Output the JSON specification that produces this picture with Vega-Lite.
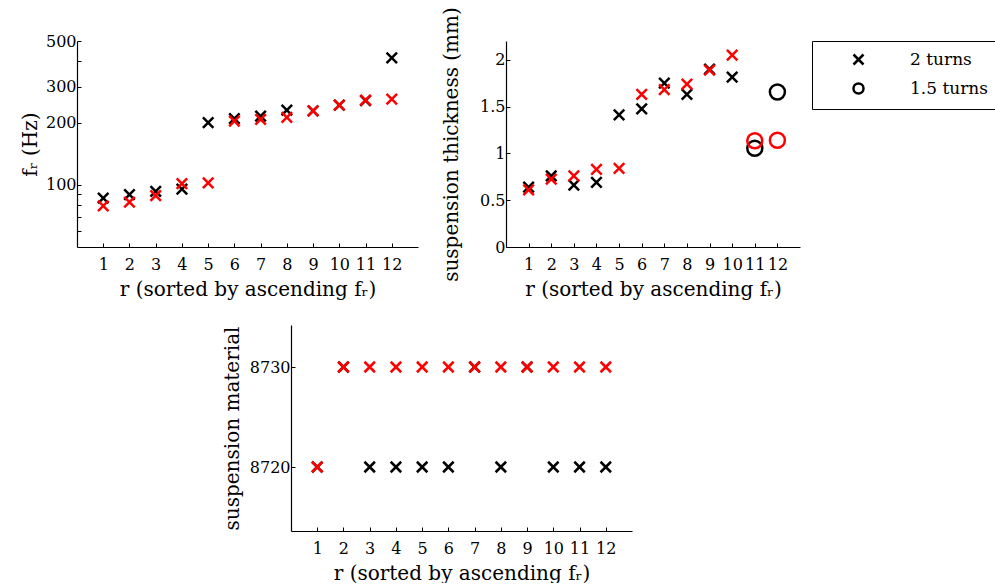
{
  "$schema": "https://vega.github.io/schema/vega-lite/v6.json",
  "padding": {"left": 20, "top": 6, "right": 0, "bottom": 0},
  "background": "white",
  "datasets": {
    "fr": [
      {"r": 1, "v": 86.4, "set": "a", "turns": "2 turns"},
      {"r": 2, "v": 89.7, "set": "a", "turns": "2 turns"},
      {"r": 3, "v": 93, "set": "a", "turns": "2 turns"},
      {"r": 4, "v": 95.5, "set": "a", "turns": "2 turns"},
      {"r": 5, "v": 201, "set": "a", "turns": "2 turns"},
      {"r": 6, "v": 210, "set": "a", "turns": "2 turns"},
      {"r": 7, "v": 216, "set": "a", "turns": "2 turns"},
      {"r": 8, "v": 231, "set": "a", "turns": "2 turns"},
      {"r": 9, "v": 229, "set": "a", "turns": "2 turns"},
      {"r": 10, "v": 244, "set": "a", "turns": "2 turns"},
      {"r": 11, "v": 257, "set": "a", "turns": "2 turns"},
      {"r": 12, "v": 414, "set": "a", "turns": "2 turns"},
      {"r": 1, "v": 79.2, "set": "b", "turns": "2 turns"},
      {"r": 2, "v": 82.6, "set": "b", "turns": "2 turns"},
      {"r": 3, "v": 88.7, "set": "b", "turns": "2 turns"},
      {"r": 4, "v": 101.5, "set": "b", "turns": "2 turns"},
      {"r": 5, "v": 102.3, "set": "b", "turns": "2 turns"},
      {"r": 6, "v": 204, "set": "b", "turns": "2 turns"},
      {"r": 7, "v": 208, "set": "b", "turns": "2 turns"},
      {"r": 8, "v": 213, "set": "b", "turns": "2 turns"},
      {"r": 9, "v": 229, "set": "b", "turns": "2 turns"},
      {"r": 10, "v": 244, "set": "b", "turns": "2 turns"},
      {"r": 11, "v": 258, "set": "b", "turns": "2 turns"},
      {"r": 12, "v": 261, "set": "b", "turns": "2 turns"}
    ],
    "thick": [
      {"r": 1, "v": 0.64, "set": "a", "turns": "2 turns"},
      {"r": 2, "v": 0.76, "set": "a", "turns": "2 turns"},
      {"r": 3, "v": 0.66, "set": "a", "turns": "2 turns"},
      {"r": 4, "v": 0.69, "set": "a", "turns": "2 turns"},
      {"r": 5, "v": 1.41, "set": "a", "turns": "2 turns"},
      {"r": 6, "v": 1.476, "set": "a", "turns": "2 turns"},
      {"r": 7, "v": 1.75, "set": "a", "turns": "2 turns"},
      {"r": 8, "v": 1.63, "set": "a", "turns": "2 turns"},
      {"r": 9, "v": 1.9, "set": "a", "turns": "2 turns"},
      {"r": 10, "v": 1.815, "set": "a", "turns": "2 turns"},
      {"r": 11, "v": 1.055, "set": "a", "turns": "1.5 turns"},
      {"r": 12, "v": 1.655, "set": "a", "turns": "1.5 turns"},
      {"r": 1, "v": 0.61, "set": "b", "turns": "2 turns"},
      {"r": 2, "v": 0.725, "set": "b", "turns": "2 turns"},
      {"r": 3, "v": 0.76, "set": "b", "turns": "2 turns"},
      {"r": 4, "v": 0.83, "set": "b", "turns": "2 turns"},
      {"r": 5, "v": 0.84, "set": "b", "turns": "2 turns"},
      {"r": 6, "v": 1.63, "set": "b", "turns": "2 turns"},
      {"r": 7, "v": 1.68, "set": "b", "turns": "2 turns"},
      {"r": 8, "v": 1.74, "set": "b", "turns": "2 turns"},
      {"r": 9, "v": 1.89, "set": "b", "turns": "2 turns"},
      {"r": 10, "v": 2.05, "set": "b", "turns": "2 turns"},
      {"r": 11, "v": 1.135, "set": "b", "turns": "1.5 turns"},
      {"r": 12, "v": 1.14, "set": "b", "turns": "1.5 turns"}
    ],
    "mat": [
      {"r": 1, "v": 8720, "set": "a", "turns": "2 turns"},
      {"r": 2, "v": 8730, "set": "a", "turns": "2 turns"},
      {"r": 3, "v": 8720, "set": "a", "turns": "2 turns"},
      {"r": 4, "v": 8720, "set": "a", "turns": "2 turns"},
      {"r": 5, "v": 8720, "set": "a", "turns": "2 turns"},
      {"r": 6, "v": 8720, "set": "a", "turns": "2 turns"},
      {"r": 7, "v": 8730, "set": "a", "turns": "2 turns"},
      {"r": 8, "v": 8720, "set": "a", "turns": "2 turns"},
      {"r": 9, "v": 8730, "set": "a", "turns": "2 turns"},
      {"r": 10, "v": 8720, "set": "a", "turns": "2 turns"},
      {"r": 11, "v": 8720, "set": "a", "turns": "2 turns"},
      {"r": 12, "v": 8720, "set": "a", "turns": "2 turns"},
      {"r": 1, "v": 8720, "set": "b", "turns": "2 turns"},
      {"r": 2, "v": 8730, "set": "b", "turns": "2 turns"},
      {"r": 3, "v": 8730, "set": "b", "turns": "2 turns"},
      {"r": 4, "v": 8730, "set": "b", "turns": "2 turns"},
      {"r": 5, "v": 8730, "set": "b", "turns": "2 turns"},
      {"r": 6, "v": 8730, "set": "b", "turns": "2 turns"},
      {"r": 7, "v": 8730, "set": "b", "turns": "2 turns"},
      {"r": 8, "v": 8730, "set": "b", "turns": "2 turns"},
      {"r": 9, "v": 8730, "set": "b", "turns": "2 turns"},
      {"r": 10, "v": 8730, "set": "b", "turns": "2 turns"},
      {"r": 11, "v": 8730, "set": "b", "turns": "2 turns"},
      {"r": 12, "v": 8730, "set": "b", "turns": "2 turns"}
    ]
  },
  "spacing": 26,
  "vconcat": [
    {
      "spacing": 23,
      "resolve": {"scale": {"color": "independent", "shape": "independent"}, "legend": {"shape": "independent", "color": "independent"}},
      "hconcat": [
        {
          "width": 341,
          "height": 206,
          "data": {"name": "fr"},
          "mark": {"type": "point", "filled": false, "strokeWidth": 2.5, "opacity": 1, "size": 110, "clip": false},
          "encoding": {
            "x": {"field": "r", "type": "quantitative", "scale": {"domain": [0, 13], "nice": false, "zero": false},
                  "axis": {"values": [1,2,3,4,5,6,7,8,9,10,11,12], "format": "d", "title": "r (sorted by ascending fᵣ)"}},
            "y": {"field": "v", "type": "quantitative", "scale": {"type": "log", "domain": [50, 500], "nice": false},
                  "axis": {"values": [60,70,80,90,100,200,300,400,500], "labelExpr": "indexof([100,200,300,500], datum.value) >= 0 ? datum.value : ''", "title": "fᵣ (Hz)", "titlePadding": 5}},
            "color": {"field": "set", "type": "nominal", "scale": {"domain": ["a", "b"], "range": ["black", "#ff0000"]}, "legend": null},
            "shape": {"field": "turns", "type": "nominal", "scale": {"domain": ["2 turns", "1.5 turns"], "range": ["M-1,-1L1,1M1,-1L-1,1", "circle"]}, "legend": null}
          }
        },
        {
          "width": 294,
          "height": 206,
          "data": {"name": "thick"},
          "encoding": {
            "x": {"field": "r", "type": "quantitative", "scale": {"domain": [0, 13], "nice": false, "zero": false},
                  "axis": {"values": [1,2,3,4,5,6,7,8,9,10,11,12], "format": "d", "title": "r (sorted by ascending fᵣ)"}},
            "y": {"field": "v", "type": "quantitative", "scale": {"domain": [0, 2.2], "nice": false},
                  "axis": {"values": [0, 0.5, 1, 1.5, 2], "format": "~g", "title": "suspension thickness (mm)", "titlePadding": 18}},
            "color": {"field": "set", "type": "nominal", "scale": {"domain": ["a", "b"], "range": ["black", "#ff0000"]}, "legend": null}
          },
          "layer": [
            {
              "transform": [{"filter": "datum.turns === '2 turns'"}],
              "mark": {"type": "point", "filled": false, "strokeWidth": 2.5, "opacity": 1, "size": 110, "clip": false},
              "encoding": {
                "shape": {"field": "turns", "type": "nominal", "scale": {"domain": ["2 turns", "1.5 turns"], "range": ["M-1,-1L1,1M1,-1L-1,1", "circle"]},
                          "legend": {"orient": "none", "legendX": 306, "legendY": 0, "title": null, "strokeColor": "black", "fillColor": "white", "padding": 10, "symbolOffset": 28, "labelOffset": 43, "symbolSize": 100, "symbolStrokeColor": "black", "symbolStrokeWidth": 2.5, "symbolFillColor": "transparent", "labelFontSize": 17, "labelFont": "DejaVu Serif", "labelColor": "black", "rowPadding": 8, "cornerRadius": 0}}
              }
            },
            {
              "transform": [{"filter": "datum.turns === '1.5 turns'"}],
              "mark": {"type": "point", "filled": false, "strokeWidth": 2.5, "opacity": 1, "size": 225, "clip": false},
              "encoding": {
                "shape": {"field": "turns", "type": "nominal"}
              }
            }
          ]
        }
      ]
    },
    {
      "spacing": 0,
      "hconcat": [
        {
          "width": 145,
          "height": 206,
          "data": {"values": []},
          "mark": "point",
          "encoding": {}
        },
        {
          "width": 341,
          "height": 206,
          "data": {"name": "mat"},
          "mark": {"type": "point", "filled": false, "strokeWidth": 2.5, "opacity": 1, "size": 110, "clip": false},
          "encoding": {
            "x": {"field": "r", "type": "quantitative", "scale": {"domain": [0, 13], "nice": false, "zero": false},
                  "axis": {"values": [1,2,3,4,5,6,7,8,9,10,11,12], "format": "d", "title": "r (sorted by ascending fᵣ)"}},
            "y": {"field": "v", "type": "quantitative", "scale": {"domain": [8713.6, 8734.2], "nice": false, "zero": false},
                  "axis": {"values": [8720, 8730], "format": "d", "title": "suspension material", "titlePadding": 7}},
            "color": {"field": "set", "type": "nominal", "scale": {"domain": ["a", "b"], "range": ["black", "#ff0000"]}, "legend": null},
            "shape": {"field": "turns", "type": "nominal", "scale": {"domain": ["2 turns", "1.5 turns"], "range": ["M-1,-1L1,1M1,-1L-1,1", "circle"]}, "legend": null}
          }
        }
      ]
    }
  ],
  "resolve": {"scale": {"color": "independent", "shape": "independent"}, "legend": {"shape": "independent", "color": "independent"}},
  "config": {
    "view": {"stroke": null},
    "font": "DejaVu Serif",
    "axis": {
      "grid": false,
      "domainColor": "black",
      "domainWidth": 1.2,
      "tickColor": "black",
      "tickSize": -4,
      "tickWidth": 1,
      "labelColor": "black",
      "titleColor": "black",
      "labelFont": "DejaVu Serif",
      "titleFont": "DejaVu Serif",
      "labelFontSize": 16,
      "titleFontSize": 20,
      "titleFontWeight": "normal",
      "titlePadding": 8,
      "labelAngle": 0,
      "labelFlush": false,
      "labelOverlap": false
    },
    "axisX": {"labelPadding": 13, "titlePadding": 7},
    "axisY": {"labelPadding": 5}
  }
}
